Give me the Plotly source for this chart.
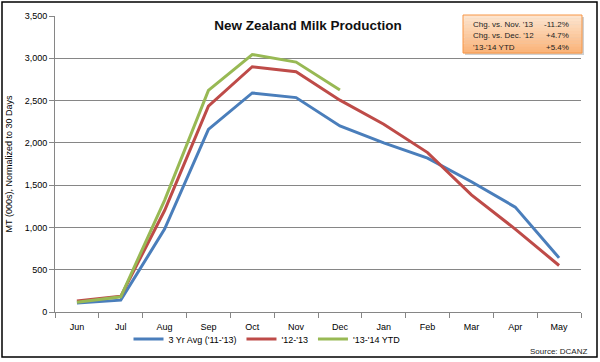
import plotly.graph_objects as go

months = ["Jun", "Jul", "Aug", "Sep", "Oct", "Nov", "Dec", "Jan", "Feb", "Mar", "Apr", "May"]
avg_3yr = [105, 140, 980, 2160, 2590, 2535, 2200, 2000, 1820, 1540, 1240, 640]
season_12_13 = [130, 185, 1200, 2435, 2900, 2840, 2505, 2220, 1885, 1385, 980, 550]
season_13_14 = [115, 180, 1320, 2620, 3045, 2955, 2625]
yticks = [0, 500, 1000, 1500, 2000, 2500, 3000, 3500]
box_labels = ["Chg. vs. Nov. '13", "Chg. vs. Dec. '12", "'13-'14 YTD"]
box_values = ["-11.2%", "+4.7%", "+5.4%"]

font = "Liberation Sans"
L, R, T, B = 55, 581, 16, 312
W, H = R - L, B - T

def px(xp):
    return (xp - L) / W
def py(yp):
    return (B - yp) / H

fig = go.Figure()
fig.add_trace(go.Scatter(x=months, y=avg_3yr, mode="lines", name="3 Yr Avg ('11-'13)",
                         line=dict(color="#4A7EBB", width=3)))
fig.add_trace(go.Scatter(x=months, y=season_12_13, mode="lines", name="'12-'13",
                         line=dict(color="#BE4B48", width=3)))
fig.add_trace(go.Scatter(x=months[:len(season_13_14)], y=season_13_14, mode="lines", name="'13-'14 YTD",
                         line=dict(color="#98B954", width=3)))

fig.update_layout(
    width=600, height=362,
    margin=dict(l=L, r=600 - R, t=T, b=362 - B, autoexpand=False),
    paper_bgcolor="white", plot_bgcolor="white",
    font=dict(family=font, size=9, color="#000000"),
    title=dict(text="<b>New Zealand Milk Production</b>", x=px(308), xanchor="center", xref="paper",
               y=1 - 25 / 362, yanchor="middle", font=dict(size=13.5, family=font, color="#111")),
    showlegend=True,
    legend=dict(orientation="h", x=px(267), xanchor="center", y=py(339), yanchor="middle",
                font=dict(size=9, family=font), bgcolor="rgba(0,0,0,0)"),
    xaxis=dict(type="category", categoryorder="array", categoryarray=months,
               showgrid=False, showline=True, linecolor="#868686", linewidth=1,
               ticks="outside", tickson="boundaries", ticklen=5, tickcolor="#868686",
               range=[-0.5, 11.5], tickfont=dict(size=9), ticklabelstandoff=6,
               automargin=False),
    yaxis=dict(range=[0, 3500], tickvals=yticks, ticktext=[f"{v:,}" for v in yticks],
               showgrid=True, gridcolor="#868686", gridwidth=1,
               showline=True, linecolor="#868686", ticks="outside", ticklen=5,
               tickcolor="#868686", zeroline=False, tickfont=dict(size=9),
               automargin=False,
               title=dict(text="MT (000s), Normalized to 30 Days", font=dict(size=9), standoff=10)),
)

# outer border
fig.add_shape(type="rect", xref="paper", yref="paper",
              x0=px(2), x1=px(597), y0=py(357), y1=py(2),
              line=dict(color="black", width=1.5), fillcolor="rgba(0,0,0,0)", layer="above")

# info box: shadow, gradient bands, border
bx0, bx1, by0, by1 = 463, 582, 15, 53
fig.add_shape(type="rect", xref="paper", yref="paper",
              x0=px(bx0 + 2), x1=px(bx1 + 2), y0=py(by1 + 2), y1=py(by0 + 2),
              line=dict(width=0), fillcolor="rgba(120,120,120,0.35)", layer="above")
top_c, bot_c = (253, 228, 206), (250, 180, 122)
nb = 12
for k in range(nb):
    t = k / (nb - 1)
    c = tuple(round(top_c[j] + (bot_c[j] - top_c[j]) * t) for j in range(3))
    ya = by0 + (by1 - by0) * k / nb
    yb = by0 + (by1 - by0) * (k + 1) / nb
    fig.add_shape(type="rect", xref="paper", yref="paper",
                  x0=px(bx0), x1=px(bx1), y0=py(yb + 0.3), y1=py(ya),
                  line=dict(width=0), fillcolor=f"rgb{c}", layer="above")
fig.add_shape(type="rect", xref="paper", yref="paper",
              x0=px(bx0), x1=px(bx1), y0=py(by1), y1=py(by0),
              line=dict(color="#F79646", width=1), fillcolor="rgba(0,0,0,0)", layer="above")
for i, (lab, val) in enumerate(zip(box_labels, box_values)):
    yy = py(25 + i * 11)
    fig.add_annotation(xref="paper", yref="paper", x=px(471), y=yy, text=lab, showarrow=False,
                       xanchor="left", yanchor="middle", font=dict(size=8, family=font, color="#222"))
    fig.add_annotation(xref="paper", yref="paper", x=px(571), y=yy, text=val, showarrow=False,
                       xanchor="right", yanchor="middle", font=dict(size=8, family=font, color="#222"))

fig.add_annotation(xref="paper", yref="paper", x=px(589), y=py(351), text="Source: DCANZ",
                   showarrow=False, xanchor="right", yanchor="middle",
                   font=dict(size=8, family=font, color="#222"))

fig.write_html("out.html", config={"displayModeBar": False},
               post_script="document.body.style.margin='0';document.body.style.overflow='hidden';")
